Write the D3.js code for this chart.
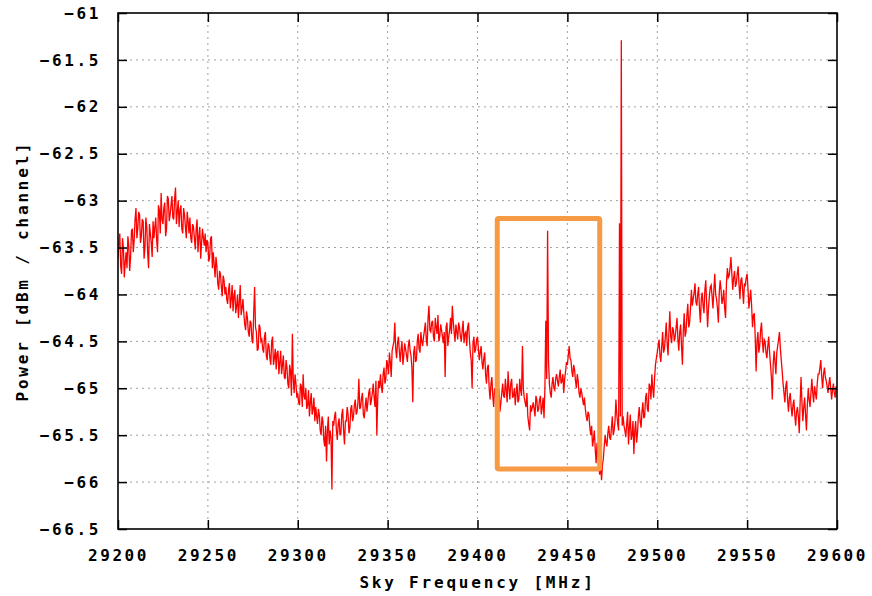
<!DOCTYPE html>
<html>
<head>
<meta charset="utf-8">
<script src="https://d3js.org/d3.v7.min.js"></script>
<style>
  html, body { margin: 0; padding: 0; background: #fff; }
  svg { display: block; font-family: 'DejaVu Sans Mono', monospace; }
  .tick text { font-size: 16px; font-weight: bold; letter-spacing: 2.6px; fill: #000; }
  .axis-title { font-size: 16px; font-weight: bold; letter-spacing: 2.8px; fill: #000; }
</style>
</head>
<body>
<div id="chart"></div>
<script>
// tick labels
const xTicks = [29200, 29250, 29300, 29350, 29400, 29450, 29500, 29550, 29600]
const yTicks = [-61, -61.5, -62, -62.5, -63, -63.5, -64, -64.5, -65, -65.5, -66, -66.5]

// spectrum, channels on whole MHz starting at 29200
const freqStart = 29200
const chanWidth = 1
const power = [
  -63.62, -63.35, -63.78, -63.50, -63.66, -63.72, -63.48, -63.60, -63.30, -63.42,
  -63.08, -63.30, -63.15, -63.38, -63.22, -63.50, -63.28, -63.72, -63.35, -63.60,
  -63.40, -63.18, -63.55, -63.10, -62.92, -63.25, -63.02, -63.30, -62.98, -63.15,
  -62.95, -63.20, -62.86, -63.12, -63.28, -63.05, -63.35, -63.15, -63.40, -63.22,
  -63.18, -63.45, -63.28, -63.52, -63.20, -63.38, -63.62, -63.30, -63.48, -63.55,
  -63.45, -63.60, -63.38, -63.55, -63.82, -63.70, -63.95, -63.78, -64.02, -63.85,
  -63.92, -64.10, -63.88, -64.05, -64.18, -63.95, -64.12, -64.25, -63.90, -64.15,
  -64.20, -64.38, -64.25, -64.45, -64.30, -64.52, -63.92, -64.40, -64.58, -64.35,
  -64.48, -64.62, -64.40, -64.70, -64.55, -64.75, -64.45, -64.68, -64.80, -64.60,
  -64.72, -64.85, -64.65, -64.90, -64.78, -65.00, -64.82, -64.42, -65.05, -64.95,
  -65.05, -65.18, -64.98, -64.85, -65.12, -65.22, -65.02, -65.15, -65.28, -65.10,
  -65.20, -65.38, -65.28, -65.50, -65.35, -65.62, -65.78, -65.30, -65.45, -66.08,
  -65.40, -65.25, -65.55, -65.32, -65.48, -65.22, -65.60, -65.35, -65.28, -65.42,
  -65.18, -65.30, -65.12, -65.25, -64.90, -65.20, -65.05, -65.32, -65.10, -65.15,
  -65.00, -65.12, -64.95, -65.20, -65.50, -64.92, -64.85, -65.05, -64.78, -64.90,
  -64.75, -64.62, -64.88, -64.55, -64.30, -64.68, -64.45, -64.72, -64.50, -64.65,
  -64.58, -64.72, -64.48, -64.65, -65.15, -64.55, -64.70, -64.42, -64.62, -64.50,
  -64.45, -64.30, -64.55, -64.12, -64.40, -64.28, -64.50, -64.35, -64.22, -64.45,
  -64.38, -64.52, -64.88, -64.30, -64.45, -64.25, -64.12, -64.40, -64.32, -64.48,
  -64.35, -64.50, -64.28, -64.42, -64.55, -64.30, -64.62, -65.00, -64.45, -64.58,
  -64.45, -64.70, -64.55, -64.80, -64.62, -64.95, -64.75, -65.12, -64.88, -65.20,
  -65.05, -65.42, -65.00, -65.15, -64.95, -65.10, -65.02, -64.82, -65.12, -64.90,
  -65.08, -65.18, -64.95, -65.12, -65.02, -64.55, -65.10, -65.20, -65.30, -65.45,
  -65.25, -65.15, -65.30, -65.12, -65.22, -65.08, -65.20, -65.32, -64.28, -63.32,
  -64.95, -65.10, -64.88, -65.02, -64.85, -64.98, -64.80, -64.92, -65.05, -64.82,
  -64.75, -64.55, -64.70, -64.88, -64.80, -65.00, -64.92, -65.10, -65.05, -65.18,
  -65.22, -65.35, -65.28, -65.50, -65.62, -65.45, -65.80, -65.70, -65.92, -65.98,
  -65.75, -65.50, -65.62, -65.40, -65.55, -65.30, -65.45, -65.12, -65.38, -63.24,
  -61.29, -65.30, -65.45, -65.38, -65.60, -65.28, -65.50, -65.70, -65.35, -65.48,
  -65.20, -65.42, -65.15, -65.30, -65.05, -65.25, -64.98, -64.85, -65.10, -64.75,
  -64.62, -64.48, -64.72, -64.40, -64.58, -64.30, -64.65, -64.18, -64.52, -64.38,
  -64.45, -64.25, -64.60, -64.32, -64.75, -64.20, -64.40, -64.10, -64.30, -63.95,
  -64.05, -63.88, -64.12, -63.92, -64.30, -63.98, -64.20, -63.85, -64.35, -64.02,
  -63.90, -64.15, -63.78, -64.05, -64.30, -63.85, -64.10, -63.95, -64.25, -63.72,
  -63.80, -63.60, -63.95, -63.75, -63.88, -63.70, -64.05, -63.82, -64.10, -63.90,
  -63.78, -64.15, -63.95, -64.35, -64.20, -64.82, -64.40, -64.55, -64.30, -64.62,
  -64.50, -64.68, -64.45, -64.75, -65.12, -64.60, -64.85, -64.55, -64.40, -64.70,
  -64.95, -65.15, -64.92, -65.25, -65.05, -65.30, -65.12, -65.40, -65.20, -65.48,
  -64.88, -65.35, -65.10, -65.45, -65.00, -65.20, -64.90, -65.15, -65.05, -64.95,
  -64.85, -64.70, -65.00, -64.78, -64.92, -65.05, -64.88, -65.12, -64.95, -65.10,
  -65.02
]

// channels on the half MHz (29200.5, 29201.5, ...)
const powerMid = [
  -63.45, -63.70, -63.40, -63.82, -63.55, -63.38, -63.75, -63.32, -63.55, -63.20,
  -63.40, -63.12, -63.45, -63.20, -63.62, -63.18, -63.55, -63.25, -63.45, -63.22,
  -63.28, -63.42, -63.05, -63.35, -63.20, -63.08, -63.38, -62.95, -63.22, -63.05,
  -63.18, -62.98, -63.25, -63.00, -63.10, -63.30, -63.08, -63.28, -63.12, -63.35,
  -63.40, -63.25, -63.40, -63.30, -63.55, -63.28, -63.45, -63.40, -63.35, -63.42,
  -63.65, -63.40, -63.72, -63.68, -63.60, -63.88, -63.75, -63.92, -63.80, -64.00,
  -64.05, -63.95, -64.15, -63.90, -64.02, -64.20, -64.00, -64.08, -64.22, -64.05,
  -64.32, -64.18, -64.40, -64.28, -64.48, -64.20, -64.35, -64.60, -64.32, -64.50,
  -64.58, -64.45, -64.65, -64.52, -64.68, -64.50, -64.75, -64.58, -64.62, -64.85,
  -64.60, -64.75, -64.88, -64.70, -64.95, -64.75, -65.08, -64.90, -64.85, -65.10,
  -65.15, -64.95, -65.20, -65.08, -65.00, -65.18, -65.30, -65.05, -65.22, -65.35,
  -65.30, -65.22, -65.45, -65.30, -65.55, -65.40, -65.45, -65.60, -65.52, -65.35,
  -65.30, -65.45, -65.38, -65.50, -65.28, -65.45, -65.35, -65.20, -65.48, -65.22,
  -65.35, -65.18, -65.28, -65.15, -65.22, -65.10, -65.28, -65.20, -65.25, -65.05,
  -65.18, -65.05, -65.10, -64.92, -65.10, -65.00, -64.98, -64.85, -64.95, -64.70,
  -64.85, -64.72, -64.60, -64.50, -64.58, -64.52, -64.60, -64.58, -64.75, -64.52,
  -64.65, -64.55, -64.60, -64.78, -64.62, -64.72, -64.50, -64.58, -64.40, -64.55,
  -64.38, -64.48, -64.25, -64.38, -64.30, -64.45, -64.25, -64.42, -64.50, -64.32,
  -64.45, -64.40, -64.35, -64.55, -64.38, -64.42, -64.28, -64.50, -64.40, -64.30,
  -64.45, -64.38, -64.52, -64.40, -64.35, -64.48, -64.70, -64.52, -64.62, -64.48,
  -64.58, -64.62, -64.72, -64.68, -64.85, -64.78, -65.00, -64.95, -65.08, -65.00,
  -65.15, -65.12, -65.25, -65.05, -65.08, -64.90, -65.15, -65.00, -64.95, -65.10,
  -65.00, -65.05, -65.15, -64.90, -65.08, -65.00, -65.15, -65.05, -65.38, -65.18,
  -65.20, -65.22, -65.08, -65.25, -65.12, -65.28, -65.10, -65.00, -64.90, -64.70,
  -65.05, -64.95, -65.00, -64.90, -64.92, -64.88, -64.95, -64.85, -64.90, -64.72,
  -64.65, -64.68, -64.82, -64.75, -64.92, -64.85, -65.05, -65.00, -65.12, -65.10,
  -65.30, -65.25, -65.42, -65.40, -65.55, -65.65, -65.58, -65.85, -65.78, -65.82,
  -65.62, -65.58, -65.48, -65.52, -65.42, -65.50, -65.35, -65.28, -65.45, -65.30,
  -65.40, -65.40, -65.52, -65.25, -65.42, -65.55, -65.35, -65.45, -65.58, -65.30,
  -65.35, -65.25, -65.32, -65.10, -65.22, -64.95, -65.12, -65.00, -64.90, -64.68,
  -64.55, -64.65, -64.55, -64.62, -64.45, -64.52, -64.40, -64.45, -64.35, -64.50,
  -64.35, -64.48, -64.40, -64.55, -64.38, -64.45, -64.22, -64.35, -64.15, -64.12,
  -63.98, -64.08, -64.00, -64.15, -64.05, -64.12, -63.95, -64.10, -64.15, -63.92,
  -64.02, -63.95, -64.00, -64.15, -63.98, -63.95, -64.05, -64.15, -63.88, -63.82,
  -63.72, -63.78, -63.82, -63.92, -63.78, -63.90, -63.85, -63.95, -63.88, -63.82,
  -63.95, -64.05, -64.12, -64.22, -64.45, -64.50, -64.62, -64.38, -64.50, -64.48,
  -64.62, -64.55, -64.62, -64.88, -64.75, -64.72, -64.62, -64.48, -64.58, -64.82,
  -65.05, -64.98, -65.12, -65.10, -65.20, -65.18, -65.28, -65.25, -65.30, -65.15,
  -65.15, -65.20, -65.28, -65.18, -65.12, -65.05, -65.05, -64.98, -65.12, -64.85,
  -64.78, -64.88, -64.85, -64.88, -64.98, -64.95, -65.00, -65.02, -65.05, -64.98
]

// highlighted region [f0, f1, top dB, bottom dB]
const box = [29411, 29468, -63.19, -65.86]

// merge both channel sets into one ordered series
const spectrum = []
power.forEach((p, i) => {
  spectrum.push([freqStart + i * chanWidth, p])
  if (i < powerMid.length) spectrum.push([freqStart + (i + 0.5) * chanWidth, powerMid[i]])
})

const W = 872, H = 596
const margin = {top: 13, right: 35, bottom: 67, left: 118}
const width = W - margin.left - margin.right
const height = H - margin.top - margin.bottom

const svg = d3.select('#chart')
  .append('svg')
  .attr('width', W)
  .attr('height', H)

const g = svg.append('g')
  .attr('transform', `translate(${margin.left},${margin.top})`)

const x = d3.scaleLinear().domain([29200, 29600]).range([0, width])
const y = d3.scaleLinear().domain([-66.5, -61]).range([height, 0])

// grid
g.append('g')
  .selectAll('line')
  .data(xTicks.slice(1, -1))
  .join('line')
  .attr('x1', d => x(d)).attr('x2', d => x(d))
  .attr('y1', 0).attr('y2', height)
  .attr('stroke', '#a0a0a0')
  .attr('stroke-dasharray', '2,4')

g.append('g')
  .selectAll('line')
  .data(yTicks.slice(1, -1))
  .join('line')
  .attr('x1', 0).attr('x2', width)
  .attr('y1', d => y(d)).attr('y2', d => y(d))
  .attr('stroke', '#a0a0a0')
  .attr('stroke-dasharray', '2,4')

// spectrum line
g.append('clipPath').attr('id', 'clip')
  .append('rect').attr('width', width).attr('height', height)

const line = d3.line()
  .x(d => x(d[0]))
  .y(d => y(d[1]))

g.append('path')
  .datum(spectrum)
  .attr('clip-path', 'url(#clip)')
  .attr('d', line)
  .attr('fill', 'none')
  .attr('stroke', '#ff0000')
  .attr('stroke-width', 1.3)

// orange box
g.append('rect')
  .attr('x', x(box[0]))
  .attr('y', y(box[2]))
  .attr('width', x(box[1]) - x(box[0]))
  .attr('height', y(box[3]) - y(box[2]))
  .attr('rx', 1.5)
  .attr('fill', 'none')
  .attr('stroke', '#f79a45')
  .attr('stroke-width', 5)

// axes, ticks pointing inward on all sides
const fmt = d => String(d).replace('-', '\u2212')

const yAxis = g.append('g')
  .call(d3.axisLeft(y).tickValues(yTicks).tickSize(-9).tickPadding(17).tickFormat(fmt))
const xAxis = g.append('g')
  .attr('transform', `translate(0,${height})`)
  .call(d3.axisBottom(x).tickValues(xTicks).tickSize(-9).tickPadding(21).tickFormat(d3.format('d')))
const yAxisR = g.append('g')
  .attr('transform', `translate(${width},0)`)
  .call(d3.axisRight(y).tickValues(yTicks).tickSize(-9).tickFormat(''))
const xAxisT = g.append('g')
  .call(d3.axisTop(x).tickValues(xTicks).tickSize(-9).tickFormat(''))

for (const a of [yAxis, xAxis, yAxisR, xAxisT]) {
  a.select('.domain').remove()
  a.selectAll('.tick line').attr('stroke', '#000').attr('stroke-width', 1.5)
  a.attr('font-family', null).attr('font-size', null)
}

// frame
g.append('rect')
  .attr('width', width)
  .attr('height', height)
  .attr('fill', 'none')
  .attr('stroke', '#000')
  .attr('stroke-width', 1.6)

// titles
svg.append('text')
  .attr('class', 'axis-title')
  .attr('x', margin.left + width / 2)
  .attr('y', 588)
  .attr('text-anchor', 'middle')
  .text('Sky Frequency [MHz]')

svg.append('text')
  .attr('class', 'axis-title')
  .attr('transform', `translate(28,${margin.top + height / 2}) rotate(-90)`)
  .attr('text-anchor', 'middle')
  .text('Power [dBm / channel]')
</script>
</body>
</html>
